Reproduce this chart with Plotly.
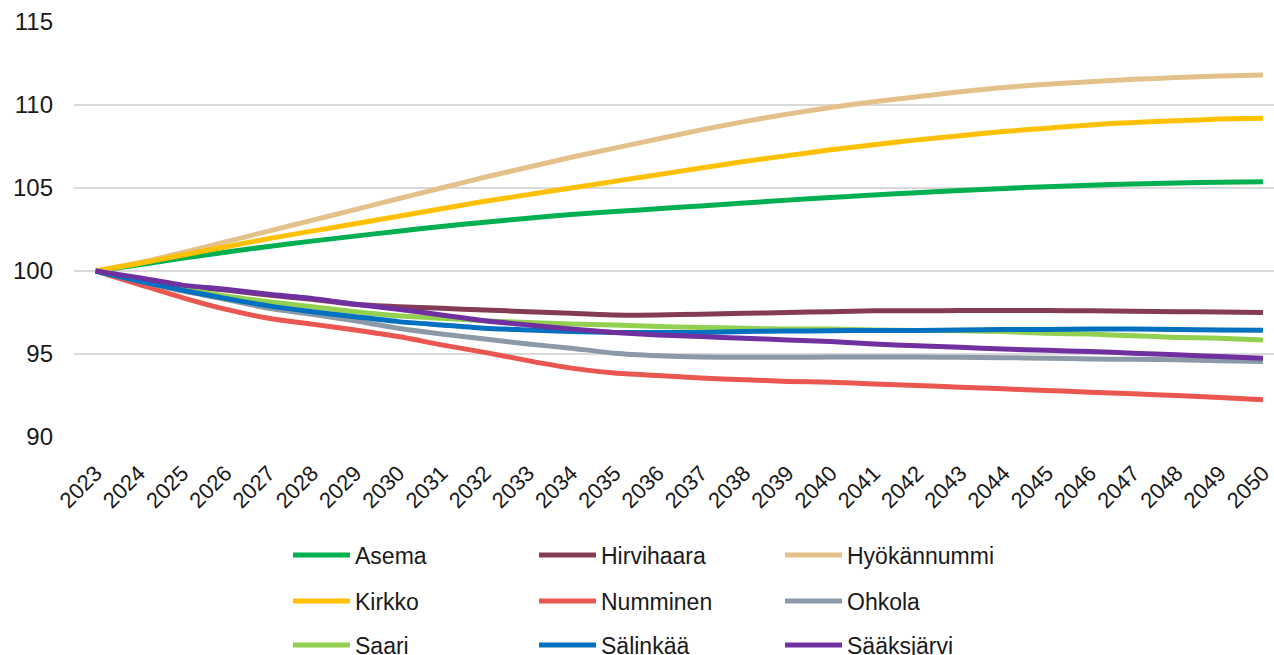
import plotly.graph_objects as go

years = [str(y) for y in range(2023, 2051)]

asema = [100, 100.38, 100.76, 101.13, 101.48, 101.8, 102.1, 102.4, 102.68, 102.94, 103.18, 103.4, 103.58, 103.75,
         103.92, 104.1, 104.27, 104.43, 104.58, 104.72, 104.85, 104.97, 105.08, 105.17, 105.24, 105.3, 105.35, 105.38]
hirvihaara = [100, 99.5, 99.1, 98.85, 98.55, 98.3, 98.0, 97.85, 97.75, 97.65, 97.55, 97.45, 97.35, 97.35,
              97.4, 97.45, 97.5, 97.55, 97.6, 97.6, 97.62, 97.62, 97.62, 97.6, 97.58, 97.55, 97.53, 97.5]
hyokannummi = [100, 100.5, 101.1, 101.75, 102.4, 103.05, 103.7, 104.35, 105.0, 105.65, 106.25, 106.85, 107.4, 107.95,
               108.5, 109.0, 109.45, 109.85, 110.2, 110.5, 110.8, 111.05, 111.25, 111.4, 111.55, 111.65, 111.75, 111.8]
kirkko = [100, 100.45, 100.95, 101.45, 101.95, 102.4, 102.85, 103.3, 103.75, 104.2, 104.6, 105.0, 105.4, 105.8,
          106.2, 106.6, 106.95, 107.3, 107.6, 107.9, 108.15, 108.4, 108.6, 108.8, 108.95, 109.05, 109.15, 109.2]
numminen = [100, 99.2, 98.4, 97.7, 97.15, 96.8, 96.45, 96.05, 95.55, 95.1, 94.6, 94.15, 93.85, 93.7,
            93.55, 93.45, 93.35, 93.3, 93.2, 93.1, 93.0, 92.9, 92.8, 92.7, 92.6, 92.5, 92.38, 92.25]
ohkola = [100, 99.4, 98.8, 98.3, 97.75, 97.4, 97.0, 96.55, 96.2, 95.9, 95.6, 95.35, 95.05, 94.9,
          94.82, 94.8, 94.8, 94.82, 94.82, 94.82, 94.8, 94.78, 94.75, 94.7, 94.68, 94.65, 94.6, 94.55]
saari = [100, 99.45, 98.95, 98.5, 98.15, 97.85, 97.55, 97.3, 97.15, 97.0, 96.9, 96.8, 96.75, 96.65,
         96.6, 96.55, 96.5, 96.5, 96.45, 96.42, 96.4, 96.35, 96.25, 96.2, 96.1, 96.0, 95.95, 95.85]
salinkaa = [100, 99.4, 98.85, 98.35, 97.9, 97.55, 97.25, 96.95, 96.75, 96.55, 96.45, 96.35, 96.3, 96.3,
            96.3, 96.35, 96.38, 96.4, 96.42, 96.42, 96.45, 96.47, 96.48, 96.5, 96.5, 96.48, 96.45, 96.43]
saaksjarvi = [100, 99.6, 99.15, 98.9, 98.6, 98.35, 98.0, 97.7, 97.35, 97.0, 96.75, 96.5, 96.3, 96.15,
              96.05, 95.95, 95.85, 95.75, 95.6, 95.5, 95.4, 95.3, 95.22, 95.15, 95.05, 94.95, 94.85, 94.75]

y_ticks = [90, 95, 100, 105, 110, 115]

series = [
    ("Asema", asema, "#00b050", "legend"),
    ("Hirvihaara", hirvihaara, "#843c54", "legend"),
    ("Hyökännummi", hyokannummi, "#e4c18b", "legend"),
    ("Kirkko", kirkko, "#ffc000", "legend2"),
    ("Numminen", numminen, "#ea5650", "legend2"),
    ("Ohkola", ohkola, "#8b9aa6", "legend2"),
    ("Saari", saari, "#92d050", "legend3"),
    ("Sälinkää", salinkaa, "#0070c0", "legend3"),
    ("Sääksjärvi", saaksjarvi, "#7030a0", "legend3"),
]

fig = go.Figure()
for name, vals, color, leg in series:
    fig.add_trace(go.Scatter(
        x=years, y=vals, name=name, mode="lines",
        line=dict(color=color, width=5, shape="spline", smoothing=0.6),
        legend=leg,
    ))

W, H = 1274, 655
FONT = "Liberation Sans"
legfont = dict(family=FONT, size=23, color="#1a1a1a")
def legdict(ypx):
    return dict(orientation="h", xref="container", yref="container",
                x=288 / W, y=1 - ypx / H, xanchor="left", yanchor="middle",
                entrywidth=174, entrywidthmode="pixels", itemwidth=57,
                font=legfont, bgcolor="rgba(0,0,0,0)", traceorder="normal")

fig.update_layout(
    width=W, height=H,
    margin=dict(l=74, r=0, t=22, b=218, autoexpand=False),
    plot_bgcolor="white", paper_bgcolor="white",
    font=dict(family=FONT, color="#1a1a1a"),
    showlegend=True,
    legend=legdict(555),
    legend2=legdict(601),
    legend3=legdict(645),
    xaxis=dict(
        type="category", range=[-0.5, 27.256], tickangle=-45,
        showgrid=False, showline=False, zeroline=False, automargin=False,
        tickfont=dict(family=FONT, size=22, color="#1a1a1a"),
        ticklabelstandoff=18,
    ),
    yaxis=dict(
        range=[90, 115], tickvals=y_ticks, showgrid=True, automargin=False,
        gridcolor="#d9d9d9", gridwidth=1.5, zeroline=False, showline=False,
        tickfont=dict(family=FONT, size=24, color="#1a1a1a"),
        ticklabelstandoff=20,
    ),
)

fig.write_html(
    "out.html",
    config={"displayModeBar": False},
    post_script="document.body.style.margin='0';document.body.style.overflow='hidden';",
)
